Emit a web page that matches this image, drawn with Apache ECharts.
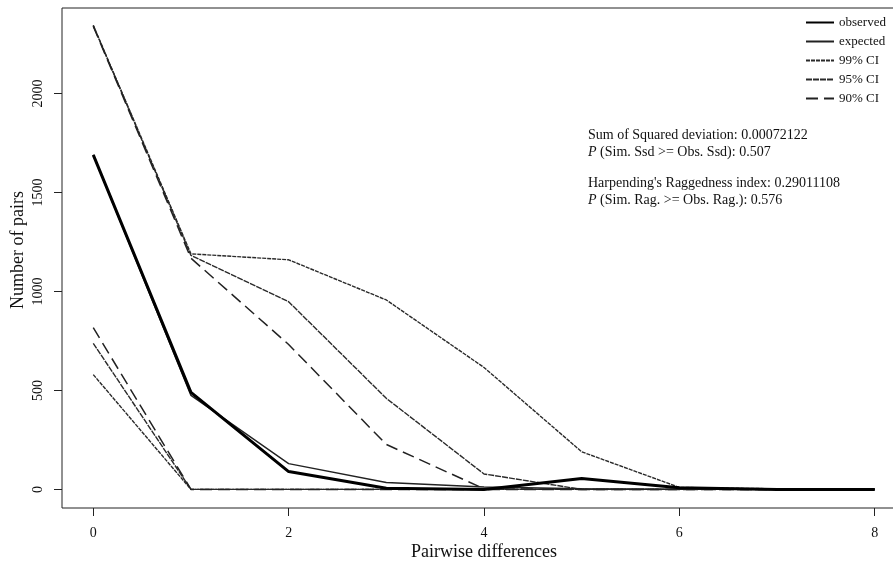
<!DOCTYPE html>
<html>
<head>
<meta charset="utf-8">
<script src="https://cdn.jsdelivr.net/npm/echarts@6/dist/echarts.min.js"></script>
<style>
  html, body { margin: 0; padding: 0; background: #fff; }
  #chart { width: 893px; height: 562px; }
</style>
</head>
<body>
<div id="chart"></div>
<script>
// mismatch distribution data
const diffs = [0, 1, 2, 3, 4, 5, 6, 7, 8];
const observed = [1690, 490, 90, 6, 0, 55, 8, 0, 0];
const expected = [1690, 475, 130, 35, 12, 3, 0, 0, 0];
const ci99Upper = [2345, 1190, 1160, 957, 616, 190, 10, 3, 0];
const ci99Lower = [580, 0, 0, 0, 0, 0, 0, 0, 0];
const ci95Upper = [2343, 1182, 948, 460, 78, 0, 0, 0, 0];
const ci95Lower = [738, 0, 0, 0, 0, 0, 0, 0, 0];
const ci90Upper = [2340, 1168, 732, 227, 3, 0, 0, 0, 0];
const ci90Lower = [817, 0, 0, 0, 0, 0, 0, 0, 0];
const xTicks = [0, 2, 4, 6, 8];
const yTicks = [0, 500, 1000, 1500, 2000];

window.onload = function () {
  drawChart();
};

function drawChart() {
  var chart = echarts.init(document.getElementById('chart'));
  var serif = '"Liberation Serif", "DejaVu Serif", serif';

  function pairs(values) {
    return diffs.map(function (d, i) { return [d, values[i]]; });
  }

  function line(name, values, width, color, dash) {
    return {
      name: name,
      type: 'line',
      data: pairs(values),
      symbol: 'none',
      silent: true,
      animation: false,
      color: color,
      itemStyle: { color: color },
      lineStyle: { width: width, color: color, type: dash || 'solid' }
    };
  }

  var option = {
    backgroundColor: '#fff',
    animation: false,
    grid: {
      left: 62, top: 8, width: 844, height: 500,
      containLabel: false, outerBoundsMode: 'none',
      show: true, borderColor: '#222', borderWidth: 1
    },
    xAxis: {
      type: 'value', min: -0.32, max: 8.32,
      name: 'Pairwise differences', nameLocation: 'middle', nameGap: 35, nameMoveOverlap: false,
      nameTextStyle: { fontFamily: serif, fontSize: 18, color: '#111' },
      axisLine: { show: false, onZero: false },
      splitLine: { show: false },
      axisTick: { show: true, length: 8, lineStyle: { color: '#222' }, customValues: xTicks },
      axisLabel: {
        fontFamily: serif, fontSize: 14, color: '#111', margin: 18, customValues: xTicks,
        formatter: function (v) { return String(v); }
      }
    },
    yAxis: {
      type: 'value', min: -94, max: 2432,
      name: 'Number of pairs', nameLocation: 'middle', nameGap: 35, nameRotate: 90, nameMoveOverlap: false,
      nameTextStyle: { fontFamily: serif, fontSize: 18, color: '#111', padding: [0, 0, 0, 16] },
      axisLine: { show: false, onZero: false },
      splitLine: { show: false },
      axisTick: { show: true, length: 8, lineStyle: { color: '#222' }, customValues: yTicks },
      axisLabel: {
        fontFamily: serif, fontSize: 14, color: '#111', margin: 17, rotate: 90, customValues: yTicks,
        formatter: function (v) { return String(v); }
      }
    },
    legend: {
      orient: 'vertical',
      left: 800, top: 11,
      itemWidth: 28, itemHeight: 12, itemGap: 6,
      selectedMode: false,
      itemStyle: { opacity: 0 },
      data: ['observed', 'expected', '99% CI', '95% CI', '90% CI'],
      textStyle: { fontFamily: serif, fontSize: 13, color: '#111' }
    },
    graphic: [
      {
        type: 'text', left: 588, top: 128, silent: true,
        style: {
          text: 'Sum of Squared deviation: 0.00072122',
          font: '14px ' + serif, fill: '#111'
        }
      },
      {
        type: 'text', left: 588, top: 145, silent: true,
        style: {
          text: '{i|P} (Sim. Ssd >= Obs. Ssd): 0.507',
          font: '14px ' + serif, fill: '#111',
          rich: { i: { fontStyle: 'italic', fontFamily: serif, fontSize: 14 } }
        }
      },
      {
        type: 'text', left: 588, top: 176, silent: true,
        style: {
          text: "Harpending's Raggedness index: 0.29011108",
          font: '14px ' + serif, fill: '#111'
        }
      },
      {
        type: 'text', left: 588, top: 193, silent: true,
        style: {
          text: '{i|P} (Sim. Rag. >= Obs. Rag.): 0.576',
          font: '14px ' + serif, fill: '#111',
          rich: { i: { fontStyle: 'italic', fontFamily: serif, fontSize: 14 } }
        }
      }
    ],
    series: [
      line('99% CI', ci99Upper, 1.4, '#2a2a2a', [4, 1]),
      line('99% CI', ci99Lower, 1.4, '#2a2a2a', [4, 1]),
      line('95% CI', ci95Upper, 1.4, '#2a2a2a', [6, 1]),
      line('95% CI', ci95Lower, 1.4, '#2a2a2a', [6, 1]),
      line('90% CI', ci90Upper, 1.5, '#222', [12, 6]),
      line('90% CI', ci90Lower, 1.5, '#222', [12, 6]),
      line('expected', expected, 1.4, '#222'),
      line('observed', observed, 3, '#000')
    ]
  };

  chart.setOption(option);
}
</script>
</body>
</html>
